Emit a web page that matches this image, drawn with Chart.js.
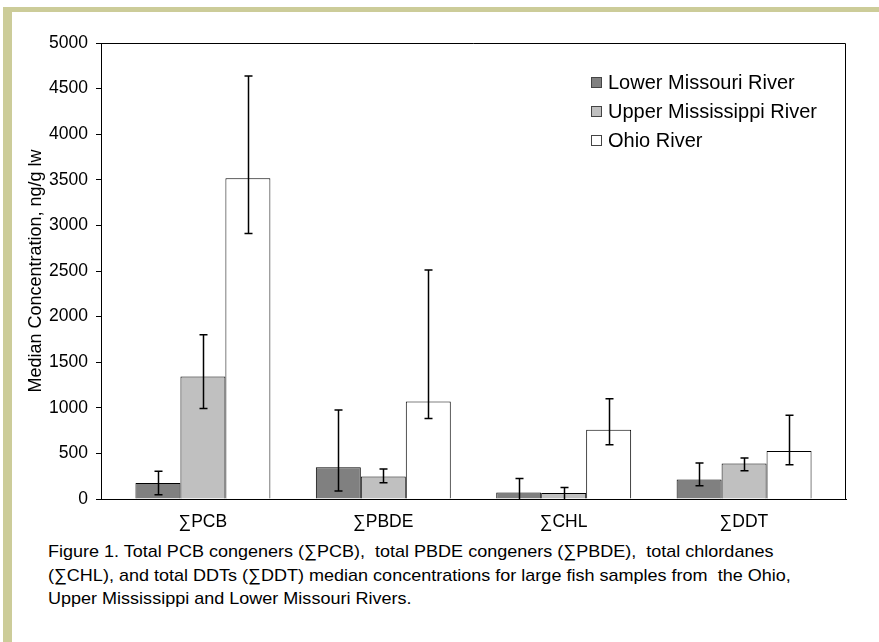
<!DOCTYPE html>
<html>
<head>
<meta charset="utf-8">
<script src="https://cdn.jsdelivr.net/npm/chart.js@4/dist/chart.umd.min.js"></script>
<style>
  body { margin: 0; background: #fff; font-family: 'Liberation Sans', Arial, sans-serif; }
  #frame { position: absolute; left: 3px; top: 7px; width: 900px; height: 700px;
           border-left: 9px solid #cccc99; border-top: 5px solid #cccc99; }
  #wrap { position: absolute; left: 0; top: 0; width: 879px; height: 540px; }
  #caption { position: absolute; left: 48px; top: 540px; font-size: 17px; line-height: 23.5px; color: #000;
             white-space: nowrap; transform: scaleX(1.06); transform-origin: left top; }
</style>
</head>
<body>
<div id="frame"></div>
<div id="wrap"><canvas id="chart"></canvas></div>
<div id="caption">Figure 1. Total PCB congeners (∑PCB),&nbsp; total PBDE congeners (∑PBDE),&nbsp; total chlordanes<br>(∑CHL), and total DDTs (∑DDT) median concentrations for large fish samples from&nbsp; the Ohio,<br>Upper Mississippi and Lower Missouri Rivers.</div>
<script>
// Categorias e valores (mediana, ng/g lw)
const categories = ['∑PCB', '∑PBDE', '∑CHL', '∑DDT'];
const seriesNames = ['Lower Missouri River', 'Upper Mississippi River', 'Ohio River'];
const lowerMissouri = [175, 347, 72, 215];
const upperMississippi = [1344, 248, 66, 390];
const ohio = [3516, 1070, 760, 526];

// Barras de erro (limite superior / inferior)
const lowerMissouriHigh = [303, 976, 226, 395];
const lowerMissouriLow = [47, 88, 0, 146];
const upperMississippiHigh = [1801, 329, 127, 449];
const upperMississippiLow = [993, 179, 0, 310];
const ohioHigh = [4638, 2510, 1100, 917];
const ohioLow = [2912, 884, 595, 376];

const yTicks = [0, 500, 1000, 1500, 2000, 2500, 3000, 3500, 4000, 4500, 5000];

const errHigh = [lowerMissouriHigh, upperMississippiHigh, ohioHigh];
const errLow = [lowerMissouriLow, upperMississippiLow, ohioLow];
const fills = ['#808080', '#c0c0c0', '#ffffff'];
const fontFamily = '"Liberation Sans", Arial, sans-serif';

// Contorno da área do gráfico e barras de erro
const errorBars = {
    id: 'errorBars',
    afterDatasetsDraw(chart) {
        const ctx = chart.ctx;
        const y = chart.scales.y;
        const a = chart.chartArea;
        ctx.save();
        ctx.strokeStyle = '#000';
        ctx.lineWidth = 1;
        ctx.beginPath();
        ctx.moveTo(a.left, a.top + 0.5);
        ctx.lineTo(a.right - 0.5, a.top + 0.5);
        ctx.lineTo(a.right - 0.5, a.bottom);
        ctx.stroke();

        ctx.lineWidth = 1.5;
        chart.data.datasets.forEach((ds, d) => {
            const meta = chart.getDatasetMeta(d);
            meta.data.forEach((bar, i) => {
                const yh = y.getPixelForValue(errHigh[d][i]);
                const yl = y.getPixelForValue(errLow[d][i]);
                const x = Math.round(bar.x) + 0.5;
                ctx.beginPath();
                ctx.moveTo(x, yh);
                ctx.lineTo(x, yl);
                ctx.moveTo(x - 4, yh);
                ctx.lineTo(x + 4, yh);
                if (errLow[d][i] > 0) {
                    ctx.moveTo(x - 4, yl);
                    ctx.lineTo(x + 4, yl);
                }
                ctx.stroke();
            });
        });
        ctx.restore();
    }
};

// Legenda dentro da área do gráfico
const insideLegend = {
    id: 'insideLegend',
    afterDraw(chart) {
        const ctx = chart.ctx;
        const a = chart.chartArea;
        const left = a.right - 255;
        ctx.save();
        ctx.font = '20px ' + fontFamily;
        ctx.textBaseline = 'middle';
        chart.data.datasets.forEach((ds, d) => {
            const cy = a.top + 39 + d * 29;
            ctx.fillStyle = ds.backgroundColor;
            ctx.fillRect(left, cy - 5, 11, 11);
            ctx.strokeStyle = '#444';
            ctx.lineWidth = 1;
            ctx.strokeRect(left + 0.5, cy - 4.5, 10, 10);
            ctx.fillStyle = '#000';
            ctx.fillText(ds.label, left + 17, cy + 1);
        });
        ctx.restore();
    }
};

const values = [lowerMissouri, upperMississippi, ohio];

const ctx = document.getElementById('chart').getContext('2d');
new Chart(ctx, {
    type: 'bar',
    data: {
        datasets: values.map((v, d) => ({
            label: seriesNames[d],
            data: v.map((val, i) => ({ x: i, y: val })),
            backgroundColor: fills[d],
            borderColor: '#000',
            borderWidth: 1,
            categoryPercentage: 0.748,
            barPercentage: 1
        }))
    },
    options: {
        responsive: true,
        maintainAspectRatio: false,
        animation: false,
        layout: { padding: { left: 0, top: 43, right: 33, bottom: 0 } },
        plugins: { legend: { display: false }, tooltip: { enabled: false } },
        scales: {
            x: {
                type: 'linear',
                offset: false,
                min: -0.565,
                max: 3.565,
                grid: { display: false, drawTicks: false },
                border: { display: true, color: '#000', width: 1 },
                afterBuildTicks: s => { s.ticks = categories.map((c, i) => ({ value: i })); },
                afterFit: s => { s.height = 41; },
                ticks: {
                    padding: 13,
                    color: '#000',
                    font: { family: fontFamily, size: 17.5 },
                    callback: v => categories[v]
                }
            },
            y: {
                min: 0,
                max: 5000,
                afterBuildTicks: s => { s.ticks = yTicks.map(v => ({ value: v })); },
                afterFit: s => { s.width = 101; },
                grid: { drawOnChartArea: false, drawTicks: true, tickLength: 5, color: '#000' },
                border: { display: true, color: '#000', width: 1 },
                ticks: {
                    padding: 8,
                    color: '#000',
                    font: { family: fontFamily, size: 17.5 },
                    callback: v => String(v)
                },
                title: {
                    display: true,
                    text: 'Median Concentration, ng/g lw',
                    color: '#000',
                    padding: { top: 25, bottom: 0 },
                    font: { family: fontFamily, size: 18 }
                }
            }
        }
    },
    plugins: [errorBars, insideLegend]
});
</script>
</body>
</html>
